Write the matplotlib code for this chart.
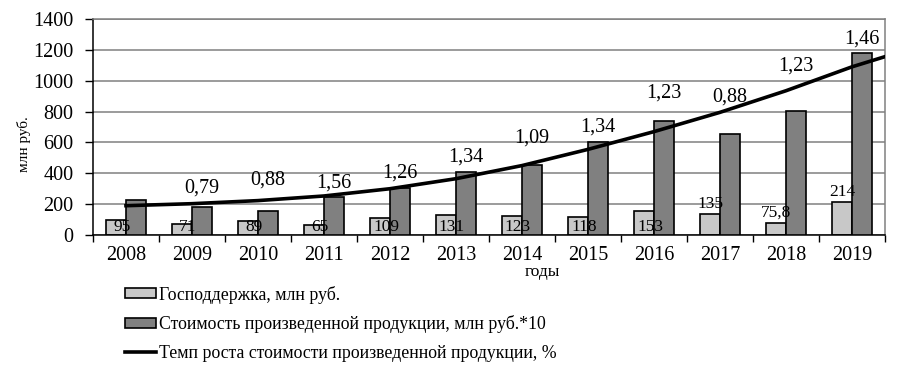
#!/usr/bin/env python3
"""
Gov support vs. production value, with growth rate trend
"""

import numpy as np
import matplotlib.pyplot as plt
from matplotlib.patches import Patch
from matplotlib.lines import Line2D

plt.rcParams['font.family'] = ['Liberation Serif', 'DejaVu Serif']

# Data
years = ['2008', '2009', '2010', '2011', '2012', '2013',
         '2014', '2015', '2016', '2017', '2018', '2019']
support = [95, 71, 89, 65, 109, 131, 123, 118, 153, 135, 75.8, 214]
support_labels = ['95', '71', '89', '65', '109', '131',
                  '123', '118', '153', '135', '75,8', '214']
production = [227, 180, 157, 244, 307, 410, 454, 601, 741, 655, 806, 1178]
growth_labels = ['', '0,79', '0,88', '1,56', '1,26', '1,34',
                 '1,09', '1,34', '1,23', '0,88', '1,23', '1,46']
growth_label_y = [0, 307, 356, 339, 400, 507, 627, 702, 922, 896, 1095, 1270]
# trend curve read at each year (last value lies past the right edge)
trend = [190, 203, 223, 253, 300, 365, 450, 555, 670, 795, 935, 1090, 1222]

fig = plt.figure(figsize=(9, 3.84), dpi=100)
ax = fig.add_axes([0.1033, 0.388, 0.88, 0.5625])

x = np.arange(len(years))
w = 0.3

ax.bar(x - w / 2, support, w, color='#c8c8c8', edgecolor='black',
       linewidth=1.2, zorder=2)
ax.bar(x + w / 2, production, w, color='#808080', edgecolor='black',
       linewidth=1.2, zorder=3)
ax.plot(np.arange(len(trend)), trend, color='black', linewidth=2.6, zorder=5)

# Support labels: near the base for most years, above the bar for the last three
for i, (val, lab) in enumerate(zip(support, support_labels)):
    if i >= 9:
        ax.text(x[i] - w / 2, val + 15, lab, ha='center', va='bottom',
                fontsize=12.5, zorder=6)
    else:
        ax.text(x[i] - w / 2 + 0.09, 50, lab, ha='center', va='center',
                fontsize=12.5, zorder=6)

for i, lab in enumerate(growth_labels):
    if lab:
        ax.text(x[i] + w / 2, growth_label_y[i], lab, ha='center',
                va='center', fontsize=14.5, zorder=6)

ax.set_xlim(-0.5, len(years) - 0.5)
ax.set_ylim(0, 1400)
ax.set_yticks(range(0, 1401, 200))
ax.set_xticks(x)
ax.set_xticklabels(years, fontsize=14.5)
ax.set_xticks(np.arange(-0.5, len(years), 1), minor=True)
ax.tick_params(axis='x', which='major', length=0, pad=8)
ax.tick_params(axis='x', which='minor', length=5, width=1, direction='out')
ax.tick_params(axis='y', length=6, width=1, labelsize=14.5, pad=8)

ax.yaxis.grid(True, color='#808080', linewidth=1.1)
ax.set_axisbelow(True)
for side in ['top', 'right']:
    ax.spines[side].set_color('#808080')
    ax.spines[side].set_linewidth(1.1)
for side in ['left', 'bottom']:
    ax.spines[side].set_linewidth(1.1)

ax.set_ylabel('млн руб.', fontsize=11)
ax.yaxis.set_label_coords(-0.078, 0.42)
ax.set_xlabel('годы', fontsize=12.5)
ax.xaxis.set_label_coords(0.567, -0.135)

handles = [
    Patch(facecolor='#c8c8c8', edgecolor='black', linewidth=1.2),
    Patch(facecolor='#808080', edgecolor='black', linewidth=1.2),
    Line2D([0], [0], color='black', linewidth=2.6),
]
labels = ['Господдержка, млн руб.',
          'Стоимость произведенной продукции, млн руб.*10',
          'Темп роста стоимости произведенной продукции, %']
fig.legend(handles, labels, loc='upper left', bbox_to_anchor=(0.131, 0.275),
           frameon=False, fontsize=12.8, handlelength=1.75, handleheight=0.45,
           handletextpad=0.15, labelspacing=0.66, borderaxespad=0)

plt.savefig('out.png', dpi=100)
plt.close()
